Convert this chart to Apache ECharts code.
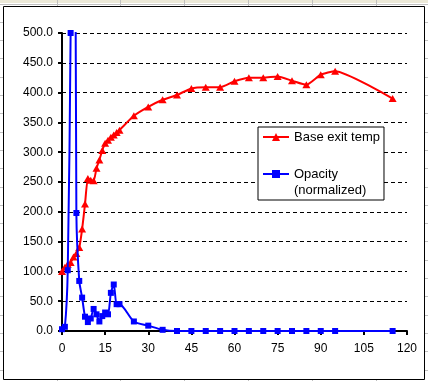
<!DOCTYPE html>
<html>
<head>
<meta charset="utf-8">
<script src="https://cdn.jsdelivr.net/npm/echarts@6/dist/echarts.min.js"></script>
<style>
html,body{margin:0;padding:0;background:#fff;}
#c{width:428px;height:381px;}
</style>
</head>
<body>
<div id="c"></div>
<script>
// ---- data ----
const timeX = [0,1,2,3,4,5,6,7,8,9,10,11,12,13,14,15,16,17,18,19,20,25,30,35,40,45,50,55,60,65,70,75,80,85,90,95,115];
const baseExitTemp = [100,107,112,115,124,130,140,171,213,256,253,252,273,287,303,315,320,325,329,333,337,361,376,388,396,407,409,409,419,425,425,427,420,413,430,436,390];
const opacityNorm = [3,7,102,500,1500,198,84,56,24,15,21,37,28,16,25,31,28,64,78,45,45,16,9,2,0,0,0,0,0,0,0,0,0,0,0,0,0];
const seriesNames = ['Base exit temp', 'Opacity (normalized)'];
const xAxisRange = [0, 120, 15];
const yAxisRange = [0, 500, 50];

// ---- chart ----
const FONT = "'Liberation Sans', Arial, sans-serif";
const pairs = (xs, ys) => xs.map((x, i) => [x, ys[i]]);

// spreadsheet-like backdrop
const bg = [];
bg.push({type:'rect', z:-5, z2:0, silent:true, shape:{x:0,y:0,width:428,height:3}, style:{fill:'#ece9d8'}});
[57,120,184,248,312,376].forEach(x => bg.push({type:'line', z:-5, z2:1, silent:true, shape:{x1:x+0.5,y1:0,x2:x+0.5,y2:381}, style:{stroke:'#c0c0c0', lineWidth:1}}));
for (let y = 3.5; y < 381; y += 18.3) bg.push({type:'line', z:-5, z2:1, silent:true, shape:{x1:0,y1:Math.round(y)+0.5,x2:428,y2:Math.round(y)+0.5}, style:{stroke:'#c0c0c0', lineWidth:1}});
bg.push({type:'rect', z:-5, z2:5, silent:true, shape:{x:3.5,y:6.5,width:421,height:373}, style:{fill:'#fff', stroke:'#000', lineWidth:1}});

const chart = echarts.init(document.getElementById('c'), null, {renderer:'canvas'});
chart.setOption({
  animation:false,
  backgroundColor:'transparent',
  textStyle:{fontFamily:FONT},
  graphic:{elements:bg},
  grid:{left:62, right:21, top:33, bottom:50, containLabel:false},
  legend:{
    orient:'vertical', left:258, top:127,
    backgroundColor:'#fff', borderColor:'#000', borderWidth:1, borderRadius:0,
    padding:[2,4,2,4],
    itemWidth:26, itemHeight:10, itemGap:5,
    textStyle:{fontFamily:FONT, fontSize:13, color:'#000', lineHeight:16},
    formatter: n => n === seriesNames[1] ? ' \nOpacity\n(normalized)' : n,
    data:seriesNames
  },
  xAxis:{
    type:'value', min:xAxisRange[0], max:xAxisRange[1], interval:xAxisRange[2],
    axisLine:{show:true, onZero:false, lineStyle:{color:'#000', width:2}},
    axisTick:{show:true, inside:false, length:4, lineStyle:{color:'#000', width:2}},
    axisLabel:{color:'#000', fontSize:12, fontFamily:FONT, margin:12},
    splitLine:{show:false}
  },
  yAxis:{
    type:'value', min:yAxisRange[0], max:yAxisRange[1], interval:yAxisRange[2],
    axisLine:{show:true, lineStyle:{color:'#000', width:2}},
    axisTick:{show:true, inside:false, length:4, lineStyle:{color:'#000', width:2}},
    axisLabel:{color:'#000', fontSize:12, fontFamily:FONT, margin:9, formatter:v => v.toFixed(1)},
    splitLine:{show:true, lineStyle:{color:'#000', width:1, type:[4,3]}}
  },
  series:[
    {
      name:seriesNames[0], type:'line', data:pairs(timeX, baseExitTemp),
      smooth:0.18, clip:true,
      symbol:'triangle', symbolSize:[8,7],
      lineStyle:{color:'#ff0000', width:2},
      itemStyle:{color:'#ff0000'},
      z:3
    },
    {
      name:seriesNames[1], type:'line', data:pairs(timeX, opacityNorm),
      smooth:0.25, clip:true,
      symbol:'rect', symbolSize:6,
      lineStyle:{color:'#0000ff', width:2},
      itemStyle:{color:'#0000ff'},
      z:4
    }
  ]
});
</script>
</body>
</html>
